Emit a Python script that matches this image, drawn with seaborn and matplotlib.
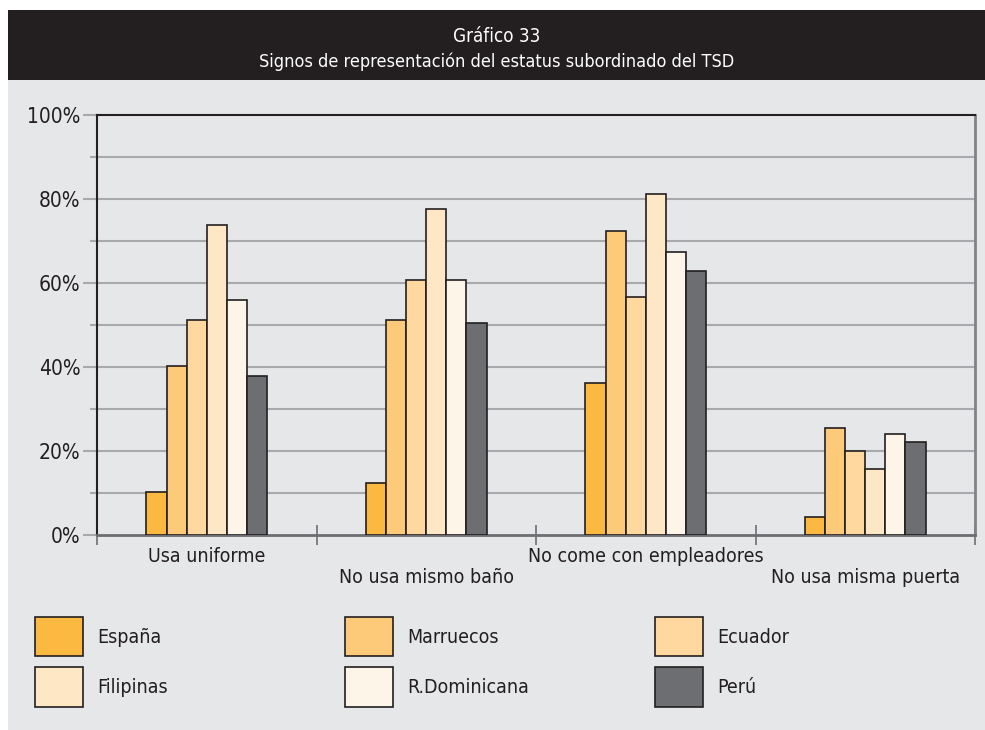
import matplotlib
matplotlib.use("Agg")
import matplotlib.pyplot as plt
from matplotlib.patches import Rectangle
import seaborn as sns
import pandas as pd

# Categories and series
categories = ["Usa uniforme", "No usa mismo baño", "No come con empleadores", "No usa misma puerta"]
countries = ["España", "Marruecos", "Ecuador", "Filipinas", "R.Dominicana", "Perú"]

espana = [10.3, 12.5, 36.3, 4.3]
marruecos = [40.3, 51.3, 72.3, 25.4]
ecuador = [51.3, 60.8, 56.7, 20.1]
filipinas = [73.7, 77.7, 81.2, 15.8]
rdominicana = [56.0, 60.8, 67.5, 24.1]
peru = [37.9, 50.5, 62.9, 22.1]

y_ticks = [0, 20, 40, 60, 80, 100]
y_ticklabels = ["0%", "20%", "40%", "60%", "80%", "100%"]

colors = ["#fbb941", "#fdca7a", "#fed89e", "#fee7c4", "#fef5e9", "#6d6e71"]

series = [espana, marruecos, ecuador, filipinas, rdominicana, peru]
rows = []
for country, vals in zip(countries, series):
    for cat, v in zip(categories, vals):
        rows.append({"categoria": cat, "pais": country, "valor": v})
df = pd.DataFrame(rows)

sns.set_theme(style="white")
plt.rcParams["font.family"] = ["DejaVu Sans"]
plt.rcParams["font.stretch"] = "condensed"

W, H = 985, 730
fig = plt.figure(figsize=(W / 100, H / 100), dpi=100, facecolor="white")

# Panel background and dark header band
panel_bg = "#e6e7e9"
fig.patches.append(Rectangle((8 / W, 0), (W - 8) / W, (H - 10) / H,
                             transform=fig.transFigure, facecolor=panel_bg,
                             edgecolor="none", zorder=-10))
fig.patches.append(Rectangle((8 / W, 1 - 80 / H), (W - 8) / W, 70 / H,
                             transform=fig.transFigure, facecolor="#231f20",
                             edgecolor="none", zorder=-10))
fig.text((8 + W) / 2 / W, 1 - 37 / H, "Gráfico 33", color="white",
         ha="center", va="center", fontsize=13.5)
fig.text((8 + W) / 2 / W, 1 - 62 / H,
         "Signos de representación del estatus subordinado del TSD",
         color="white", ha="center", va="center", fontsize=13)

ax = fig.add_axes([97 / W, 1 - 535 / H, (975 - 97) / W, 420 / H])
ax.set_facecolor(panel_bg)

sns.barplot(data=df, x="categoria", y="valor", hue="pais", order=categories,
            hue_order=countries, palette=colors, width=0.55, saturation=1,
            edgecolor="#231f20", linewidth=1.2, ax=ax, zorder=3)

ax.set_ylim(0, 100)
ax.set_xlim(-0.5, 3.5)
ax.set_xlabel("")
ax.set_ylabel("")

# Horizontal grid every 10%
for yv in range(10, 100, 10):
    ax.axhline(yv, color="#a7a9ac", lw=1.5, zorder=1)

ax.set_yticks(y_ticks)
ax.set_yticklabels(y_ticklabels)
ax.set_yticks(range(10, 100, 20), minor=True)
ax.tick_params(axis="y", which="major", length=10, width=1.5, color="#a7a9ac",
               labelsize=15, pad=2, labelcolor="#231f20", left=True)
ax.tick_params(axis="y", which="minor", length=5, width=1.5, color="#a7a9ac", left=True)

# Category labels centred, boundaries marked with crossing ticks
ax.set_xticks(range(len(categories)))
ax.set_xticklabels(categories)
ax.set_xticks([-0.5, 0.5, 1.5, 2.5, 3.5], minor=True)
ax.tick_params(axis="x", which="major", length=0, labelsize=14, labelcolor="#231f20")
ax.tick_params(axis="x", which="minor", length=15, width=1.2, color="#6d6e71",
               direction="inout", bottom=True)
for i, tick in enumerate(ax.xaxis.get_major_ticks()):
    tick.set_pad(9 if i % 2 == 0 else 24)

for side, col, lw in [("left", "#231f20", 1.5), ("top", "#231f20", 1.5),
                      ("right", "#808285", 2.0), ("bottom", "#6d6e71", 2.0)]:
    ax.spines[side].set_visible(True)
    ax.spines[side].set_color(col)
    ax.spines[side].set_linewidth(lw)

handles, labels = ax.get_legend_handles_labels()
ax.get_legend().remove()
for h in handles:
    h.set_edgecolor("#231f20")
    h.set_linewidth(1.2)

# Legend: three columns of two entries each
col_x = [33, 343, 653]
for c in range(3):
    leg = fig.legend([handles[c], handles[c + 3]], [labels[c], labels[c + 3]],
                     loc="upper left", bbox_to_anchor=(col_x[c] / W, 1 - 615 / H),
                     frameon=False, fontsize=14, handlelength=2.45, handleheight=2.75,
                     handletextpad=0.75, labelspacing=0.55, borderaxespad=0,
                     borderpad=0.1)
    for t in leg.get_texts():
        t.set_color("#231f20")

fig.savefig("out.png", dpi=100, facecolor="white")
